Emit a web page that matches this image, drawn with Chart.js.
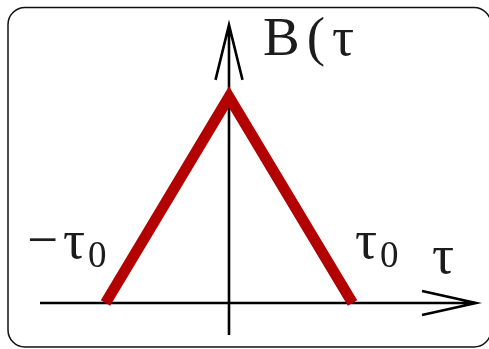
<!DOCTYPE html>
<html>
<head>
<meta charset="utf-8">
<script src="https://cdn.jsdelivr.net/npm/chart.js@4"></script>
<style>
  html, body { margin: 0; padding: 0; background: #fff; }
  canvas { display: block; }
</style>
</head>
<body>
<canvas id="chart" width="489" height="349"></canvas>
<script>
// Triangular correlation function B(tau), zero outside [-tau0, tau0]
var tau = [-1, 0, 1];
var corr = [0, 1, 0];
var yTitle = "B(τ";
var xTitle = "τ";
var tickTexts = ["−τ", "τ"];
var subText = "0";

var fontFace = "'Liberation Serif', serif";
var bigFont = "55px " + fontFace;
var subFont = "37px " + fontFace;

// draws a string glyph by glyph with extra spacing between them
function spaced(ctx, str, x, y, gap) {
  for (var i = 0; i < str.length; i++) {
    ctx.fillText(str[i], x, y);
    x += ctx.measureText(str[i]).width + gap;
  }
  return x;
}

// main text followed by a lowered subscript
function textWithSub(ctx, main, sub, x, y) {
  ctx.font = bigFont;
  var end = spaced(ctx, main, x, y, 5);
  ctx.font = subFont;
  ctx.fillText(sub, end - 2, y + 9);
}

// Frame, axes with arrows and the text labels
var decorations = {
  id: "decorations",
  beforeDatasetsDraw: function (chart) {
    var ctx = chart.ctx;
    var xs = chart.scales.x;
    var ys = chart.scales.y;
    var px = function (v) { return xs.getPixelForValue(v); };
    var py = function (v) { return ys.getPixelForValue(v); };

    ctx.save();

    // rounded frame
    ctx.strokeStyle = "#111";
    ctx.lineWidth = 1.5;
    ctx.beginPath();
    ctx.roundRect(8, 7.5, 483, 339.5, 17);
    ctx.stroke();

    ctx.strokeStyle = "#000";
    ctx.lineWidth = 2.6;
    ctx.lineCap = "butt";

    // horizontal axis
    var x0 = px(-1.53), x1 = px(2.0), y0 = py(0);
    ctx.beginPath();
    ctx.moveTo(x0, y0);
    ctx.lineTo(x1, y0);
    ctx.moveTo(x1 - 54, y0 - 12);
    ctx.lineTo(x1, y0);
    ctx.lineTo(x1 - 54, y0 + 12);
    ctx.stroke();

    // vertical axis
    var xa = px(0), yb = py(-0.155), yt = py(1.35);
    ctx.beginPath();
    ctx.moveTo(xa, yb);
    ctx.lineTo(xa, yt);
    ctx.moveTo(xa - 13.5, yt + 55);
    ctx.lineTo(xa, yt);
    ctx.lineTo(xa + 13.5, yt + 55);
    ctx.stroke();

    // labels
    ctx.fillStyle = "#1c1c1c";
    ctx.textAlign = "left";
    ctx.textBaseline = "alphabetic";
    ctx.font = bigFont;
    spaced(ctx, yTitle, 263, 55, 7);

    textWithSub(ctx, tickTexts[0], subText, 27, 258);
    textWithSub(ctx, tickTexts[1], subText, 355, 258);

    ctx.font = bigFont;
    ctx.fillText(xTitle, 432, 273);

    ctx.restore();
  }
};

var ctx = document.getElementById("chart").getContext("2d");
var chart = new Chart(ctx, {
  type: "line",
  data: {
    datasets: [{
      data: tau.map(function (t, i) { return { x: t, y: corr[i] }; }),
      borderColor: "#b30000",
      borderWidth: 11,
      borderCapStyle: "butt",
      borderJoinStyle: "miter",
      pointRadius: 0,
      fill: false,
      tension: 0
    }]
  },
  options: {
    responsive: false,
    animation: false,
    devicePixelRatio: 1,
    layout: { padding: 0 },
    plugins: {
      legend: { display: false },
      tooltip: { enabled: false }
    },
    scales: {
      x: { type: "linear", display: false, min: -1.854, max: 2.105 },
      y: { type: "linear", display: false, min: -0.2233, max: 1.4709 }
    }
  },
  plugins: [decorations]
});
</script>
</body>
</html>
